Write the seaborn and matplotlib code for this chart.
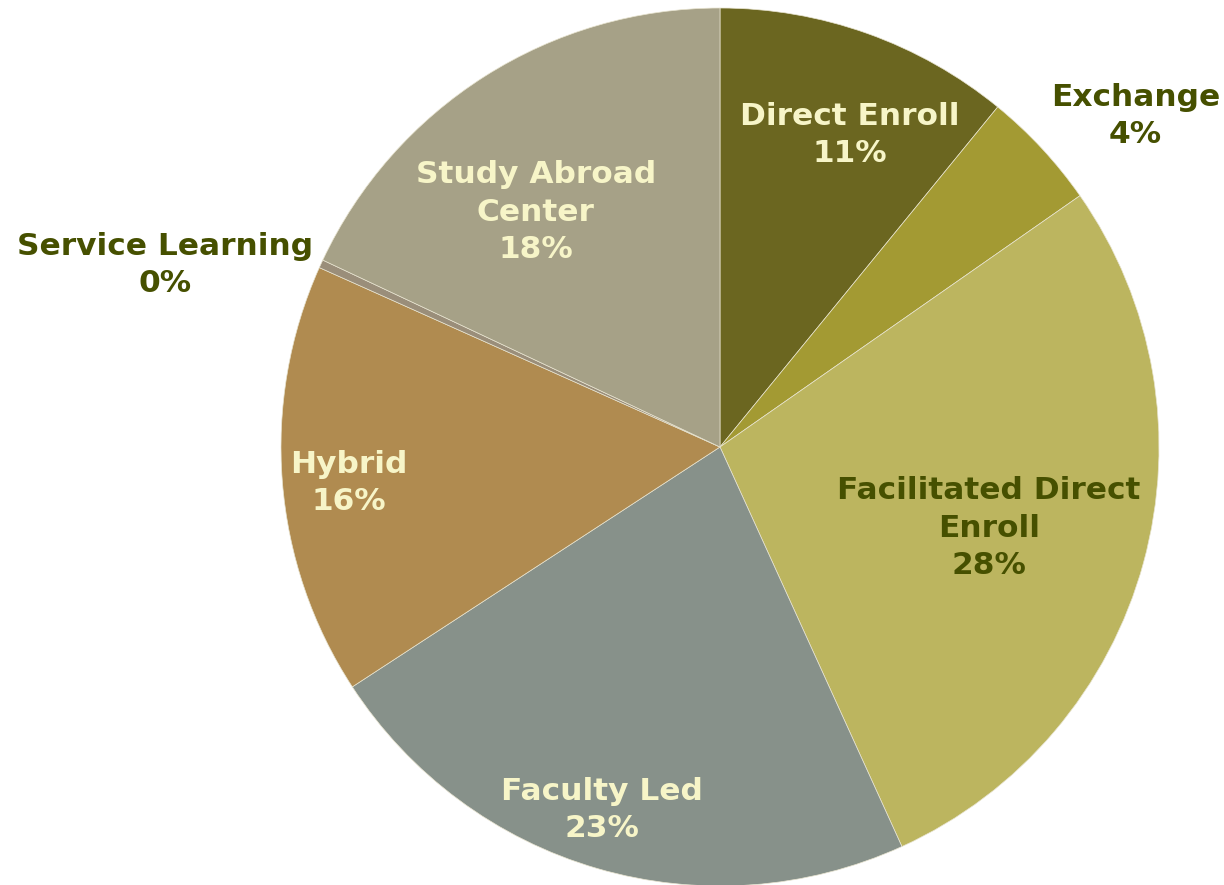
import numpy as np
import matplotlib
matplotlib.use("Agg")
import matplotlib.pyplot as plt
import seaborn as sns

# slices, clockwise from 12 o'clock
categories = ["Direct Enroll", "Exchange", "Facilitated Direct\nEnroll", "Faculty Led",
              "Hybrid", "Service Learning", "Study Abroad\nCenter"]
shares = [10.9, 4.4, 27.9, 22.6, 15.9, 0.3, 18.0]
pct_labels = ["11%", "4%", "28%", "23%", "16%", "0%", "18%"]

COLORS = ["#6B6620", "#A39A33", "#BCB55F", "#87918A", "#B08B50", "#9A8E7A", "#A6A187"]
CREAM = "#F7F5C8"
OLIVE = "#465000"
TEXT_COLORS = [CREAM, OLIVE, OLIVE, CREAM, CREAM, OLIVE, CREAM]
# (radial distance, angular offset in degrees) for each label
LABEL_POS = [(0.77, -3), (1.21, -4.3), (0.64, -1.5), (0.87, -1.8), (0.85, 1), (1.33, 6.5), (0.68, 5.7)]

sns.set_theme(style="white")
plt.rcParams["font.family"] = ["DejaVu Sans"]

fig = plt.figure(figsize=(12.24, 8.85), dpi=100)
ax = fig.add_axes([0, 0, 1, 1])
wedges, _ = ax.pie(shares, startangle=90, counterclock=False, colors=COLORS,
                   radius=1.0, wedgeprops=dict(edgecolor="#E8E4D0", linewidth=0.5))

for w, cat, pct, tc, (d, off) in zip(wedges, categories, pct_labels, TEXT_COLORS, LABEL_POS):
    mid = np.deg2rad((w.theta1 + w.theta2) / 2 + off)
    ax.text(d * np.cos(mid), d * np.sin(mid), f"{cat}\n{pct}", ha="center", va="center",
            fontsize=22.5, fontweight="bold", color=tc, linespacing=1.36)

r_px = 439
ax.set_xlim(-720 / r_px, (1224 - 720) / r_px)
ax.set_ylim(-(885 - 447) / r_px, 447 / r_px)
ax.set_aspect("equal")
ax.axis("off")
fig.savefig("out.png", dpi=100)
